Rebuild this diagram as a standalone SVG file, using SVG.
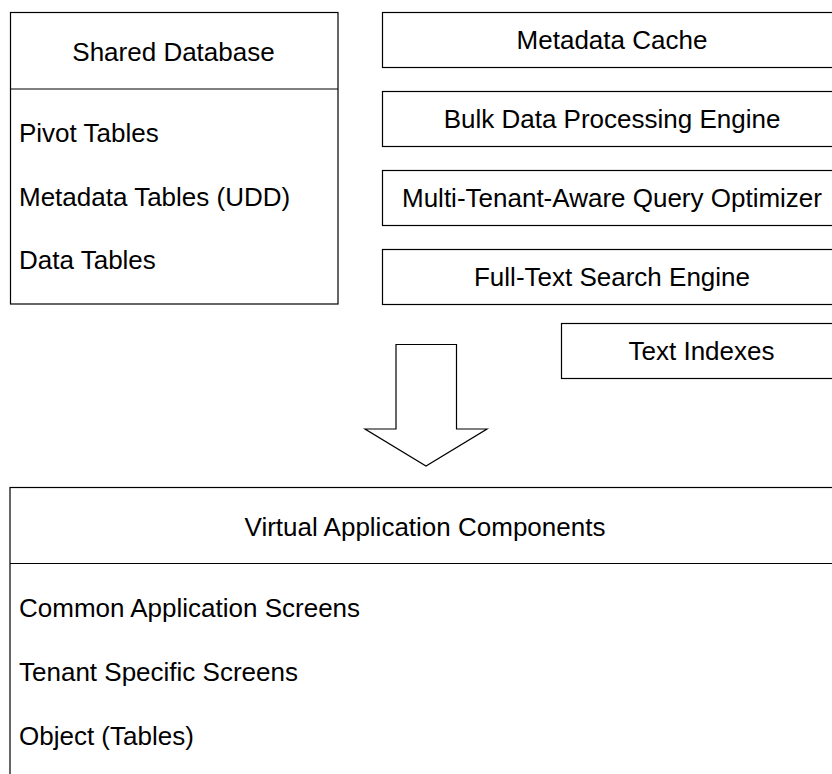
<svg xmlns="http://www.w3.org/2000/svg" width="832" height="774" viewBox="0 0 832 774">
<style>
.box{fill:#fff;stroke:#000;stroke-width:1.2}
.t{font-family:"Liberation Sans",Arial,sans-serif;font-size:26px;fill:#000}
.c{text-anchor:middle}
</style>
<rect width="832" height="774" fill="#fff"/>
<g id="shared-database">
<rect class="box" x="10.5" y="12.5" width="327.5" height="291.5"/>
<line x1="10.5" y1="89" x2="338" y2="89" stroke="#000" stroke-width="1.2"/>
<text class="t c" x="173.5" y="61">Shared Database</text>
<text class="t" x="19" y="142">Pivot Tables</text>
<text class="t" x="19" y="205.5">Metadata Tables (UDD)</text>
<text class="t" x="19" y="269">Data Tables</text>
</g>
<g id="metadata-cache">
<rect class="box" x="382.5" y="12.5" width="460" height="55"/>
<text class="t c" x="612" y="49">Metadata Cache</text>
</g>
<g id="bulk-engine">
<rect class="box" x="382.5" y="91.5" width="460" height="55"/>
<text class="t c" x="612" y="128">Bulk Data Processing Engine</text>
</g>
<g id="query-optimizer">
<rect class="box" x="382.5" y="170.5" width="460" height="55"/>
<text class="t c" x="612" y="207">Multi-Tenant-Aware Query Optimizer</text>
</g>
<g id="fulltext-engine">
<rect class="box" x="382.5" y="249.5" width="460" height="55"/>
<text class="t c" x="612" y="286">Full-Text Search Engine</text>
</g>
<g id="text-indexes">
<rect class="box" x="561.5" y="323.5" width="280" height="55"/>
<text class="t c" x="701.5" y="360">Text Indexes</text>
</g>
<g id="connectors">
<polygon class="box" points="396,344.5 456.5,344.5 456.5,429 487,429 426,466 365,429 396,429"/>
</g>
<g id="virtual-app-components">
<rect class="box" x="10" y="487.5" width="835" height="300"/>
<line x1="10" y1="563.5" x2="845" y2="563.5" stroke="#000" stroke-width="1.2"/>
<text class="t c" x="425" y="536">Virtual Application Components</text>
<text class="t" x="19" y="617">Common Application Screens</text>
<text class="t" x="19" y="681">Tenant Specific Screens</text>
<text class="t" x="19" y="745">Object (Tables)</text>
</g>
</svg>
